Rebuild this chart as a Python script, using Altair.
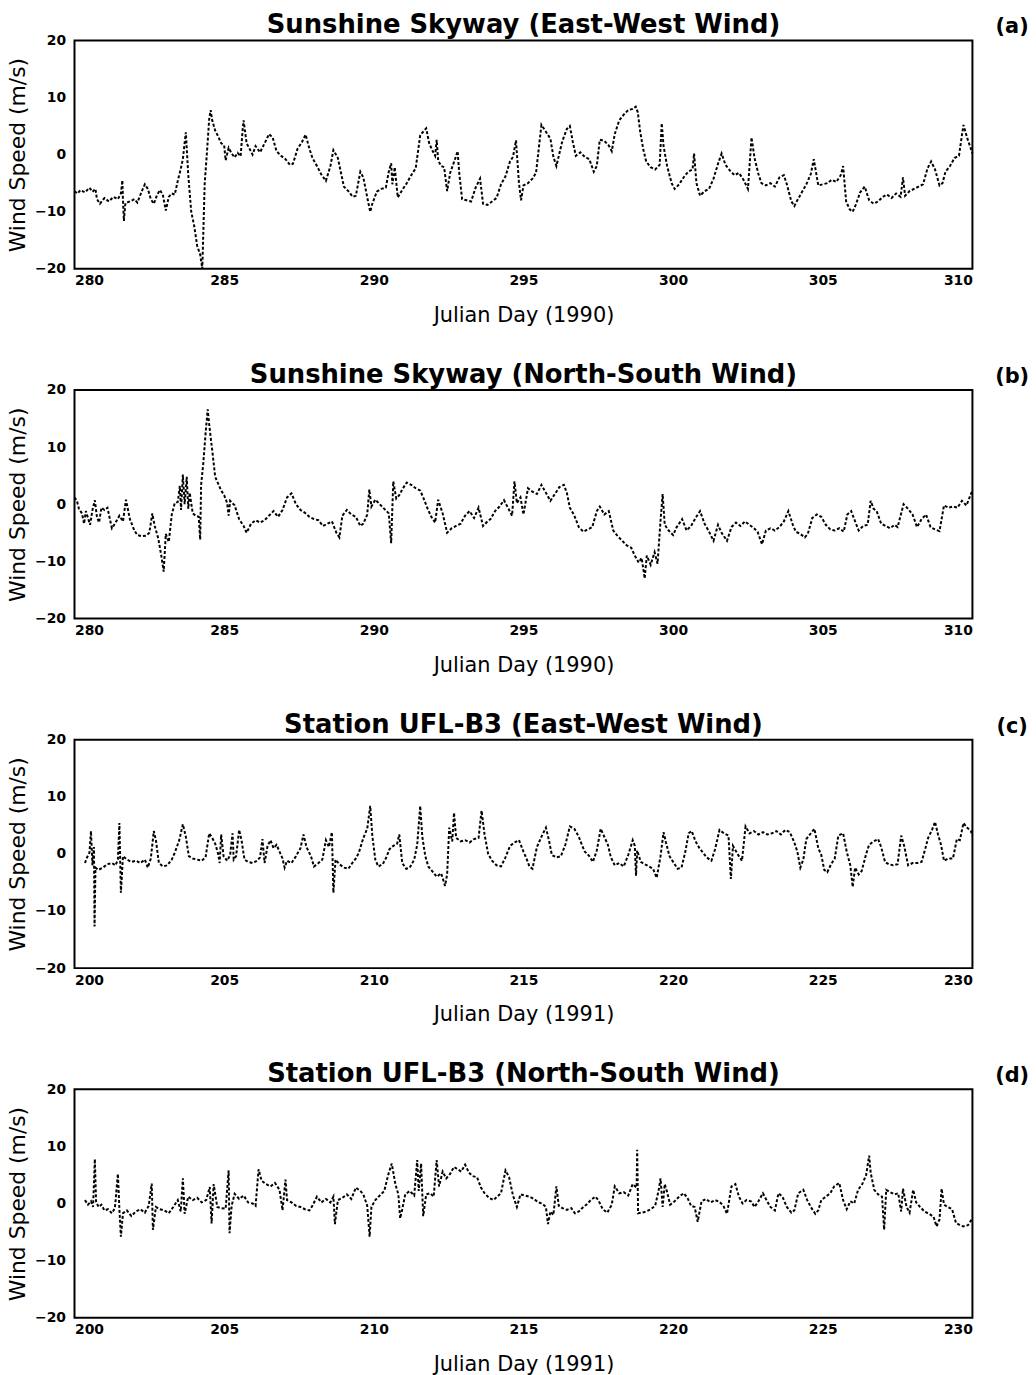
import altair as alt
import pandas as pd

FONT = "DejaVu Sans"

# ---------------- Panel (a): Sunshine Skyway, East-West wind (1990) ----------------
a_day = [280.0, 280.1, 280.2, 280.35, 280.5, 280.6, 280.7, 280.75, 280.85, 281.0, 281.15, 281.3, 281.45,
         281.55, 281.6, 281.62, 281.65, 281.7, 281.85, 282.0, 282.1, 282.25, 282.35, 282.45, 282.55, 282.65,
         282.75, 282.85, 282.95, 283.05, 283.15, 283.25, 283.35, 283.45, 283.55, 283.62, 283.72, 283.8, 283.9,
         284.0, 284.1, 284.2, 284.27, 284.35, 284.42, 284.5, 284.55, 284.6, 284.7, 284.8, 284.9, 285.0, 285.05,
         285.15, 285.25, 285.35, 285.45, 285.55, 285.62, 285.65, 285.75, 285.85, 285.95, 286.05, 286.2, 286.4,
         286.5, 286.62, 286.75, 286.9, 287.05, 287.2, 287.3, 287.45, 287.6, 287.72, 287.85, 287.95, 288.1,
         288.25, 288.4, 288.55, 288.65, 288.8, 289.0, 289.15, 289.3, 289.4, 289.55, 289.65, 289.8, 289.88,
         289.95, 290.1, 290.25, 290.4, 290.5, 290.58, 290.62, 290.7, 290.8, 290.95, 291.1, 291.25, 291.4,
         291.55, 291.65, 291.75, 291.85, 291.95, 292.05, 292.1, 292.15, 292.25, 292.35, 292.45, 292.55, 292.7,
         292.8, 292.85, 292.95, 293.1, 293.25, 293.4, 293.55, 293.65, 293.8, 293.95, 294.1, 294.25, 294.4,
         294.55, 294.65, 294.75, 294.85, 294.92, 295.0, 295.15, 295.3, 295.42, 295.6, 295.75, 295.9, 296.0,
         296.1, 296.2, 296.3, 296.45, 296.55, 296.65, 296.75, 296.9, 297.05, 297.2, 297.35, 297.45, 297.55,
         297.7, 297.85, 297.95, 298.05, 298.2, 298.35, 298.5, 298.65, 298.75, 298.82, 298.9, 299.0, 299.1,
         299.25, 299.4, 299.55, 299.62, 299.68, 299.8, 299.95, 300.05, 300.2, 300.35, 300.5, 300.65, 300.7,
         300.78, 300.9, 301.05, 301.2, 301.35, 301.5, 301.62, 301.75, 301.9, 302.05, 302.2, 302.35, 302.5,
         302.62, 302.72, 302.85, 302.95, 303.1, 303.25, 303.4, 303.55, 303.7, 303.8, 303.95, 304.05, 304.15,
         304.3, 304.45, 304.6, 304.7, 304.85, 305.0, 305.15, 305.3, 305.45, 305.6, 305.68, 305.78, 305.9,
         306.0, 306.1, 306.25, 306.4, 306.55, 306.7, 306.85, 307.0, 307.15, 307.3, 307.45, 307.6, 307.68,
         307.75, 307.9, 308.05, 308.2, 308.35, 308.5, 308.62, 308.75, 308.9, 309.0, 309.1, 309.25, 309.4,
         309.55, 309.7, 309.82, 309.95, 310.0]
a_speed = [-6.4, -6.8, -6.2, -6.6, -5.8, -6.5, -6.0, -7.8, -8.6, -7.6, -8.2, -7.4, -7.8,
           -6.8, -4.5, -8.0, -11.6, -8.5, -8.2, -7.8, -8.4, -6.4, -5.2, -6.0, -7.8, -8.6,
           -7.2, -6.2, -7.0, -9.8, -7.4, -6.8, -7.0, -4.6, -2.5, -0.8, 3.9, -3.5, -10.0,
           -12.5, -16.0, -17.5, -20.0, -5.0, 0.0, 6.2, 7.8, 6.0, 4.2, 3.2, 2.0, 1.6, -1.0,
           1.2, 0.2, -0.5, 0.3, -0.3, 4.5, 6.0, 2.0, 1.0, 0.0, 1.5, 0.4, 2.5,
           3.6, 3.0, 0.6, -0.2, -0.8, -1.8, -1.6, 1.0, 2.2, 3.5, 1.0, -0.6, -2.0,
           -3.5, -4.6, -2.0, 0.8, -0.6, -5.6, -6.4, -7.4, -7.2, -3.0, -4.0, -8.0, -10.0,
           -8.6, -6.5, -6.0, -5.8, -3.0, -1.5, -5.2, -2.2, -7.5, -6.2, -5.0, -3.6, -2.4,
           3.4, 4.0, 4.6, 2.0, 0.8, -0.2, 2.6, -1.0, -2.0, -2.2, -6.4, -3.2, -1.0,
           0.6, -3.0, -7.8, -8.0, -8.2, -5.8, -4.2, -8.6, -8.8, -8.2, -7.6, -5.2, -3.8,
           -1.2, -0.4, 2.5, -5.0, -8.0, -5.4, -5.0, -4.2, -3.2, 5.2, 4.0, 2.8, -0.4,
           -2.0, 0.2, 2.4, 4.5, 5.0, 2.2, -0.2, 0.4, -0.4, -0.8, -3.0, -2.0, 2.6,
           2.4, 1.6, 0.6, 3.6, 6.0, 7.0, 7.8, 8.0, 8.4, 7.4, 4.0, 1.0, -1.2,
           -2.2, -2.6, -1.8, 5.5, 1.5, -2.0, -5.0, -6.0, -5.2, -4.0, -3.0, -2.6, 0.2,
           -5.0, -7.2, -6.4, -6.0, -4.2, -1.6, 0.2, -1.8, -2.8, -3.6, -3.2, -4.4, -6.0,
           3.0, -0.6, -3.4, -5.0, -5.4, -5.0, -5.6, -4.0, -3.6, -5.2, -8.2, -9.0, -8.0,
           -6.6, -5.2, -3.4, -0.8, -5.4, -5.2, -5.0, -4.4, -4.8, -3.6, -2.0, -8.2, -9.6,
           -10.0, -8.8, -6.6, -5.6, -8.0, -8.6, -8.2, -7.4, -7.0, -7.6, -6.8, -7.4, -4.0,
           -7.2, -6.4, -6.0, -5.6, -5.2, -2.4, -1.2, -2.6, -5.4, -5.0, -3.0, -2.0, -0.6,
           -0.2, 5.2, 3.0, 1.0, 0.2]

# ---------------- Panel (b): Sunshine Skyway, North-South wind (1990) ----------------
b_day = [280.0, 280.08, 280.15, 280.25, 280.32, 280.38, 280.45, 280.52, 280.6, 280.68, 280.75, 280.82, 280.9,
         281.0, 281.1, 281.25, 281.35, 281.5, 281.62, 281.72, 281.85, 282.0, 282.1, 282.25, 282.4, 282.5,
         282.6, 282.68, 282.8, 282.9, 282.98, 283.05, 283.15, 283.25, 283.35, 283.45, 283.52, 283.56, 283.62,
         283.68, 283.75, 283.8, 283.85, 283.95, 284.05, 284.15, 284.2, 284.23, 284.3, 284.38, 284.45, 284.5,
         284.57, 284.62, 284.7, 284.8, 284.9, 285.0, 285.1, 285.15, 285.2, 285.35, 285.5, 285.65, 285.75,
         285.9, 286.05, 286.2, 286.35, 286.5, 286.65, 286.8, 286.95, 287.1, 287.25, 287.4, 287.55, 287.7,
         287.85, 288.0, 288.15, 288.3, 288.45, 288.6, 288.75, 288.85, 288.95, 289.1, 289.25, 289.4, 289.55,
         289.65, 289.78, 289.85, 289.92, 290.05, 290.2, 290.35, 290.5, 290.58, 290.65, 290.75, 290.85, 290.95,
         291.1, 291.25, 291.4, 291.55, 291.65, 291.8, 291.92, 292.05, 292.15, 292.3, 292.45, 292.6, 292.75,
         292.9, 293.05, 293.2, 293.35, 293.5, 293.65, 293.8, 293.9, 294.05, 294.2, 294.35, 294.5, 294.62,
         294.7, 294.78, 294.9, 295.0, 295.15, 295.3, 295.45, 295.6, 295.75, 295.9, 296.05, 296.2, 296.35,
         296.45, 296.55, 296.7, 296.85, 297.0, 297.15, 297.3, 297.45, 297.55, 297.7, 297.85, 298.0, 298.15,
         298.3, 298.45, 298.6, 298.72, 298.85, 298.95, 299.05, 299.12, 299.25, 299.38, 299.48, 299.58, 299.65,
         299.72, 299.85, 300.0, 300.12, 300.3, 300.45, 300.6, 300.75, 300.9, 301.05, 301.2, 301.35, 301.5,
         301.62, 301.8, 301.95, 302.1, 302.25, 302.4, 302.55, 302.7, 302.82, 302.97, 303.1, 303.25, 303.4,
         303.55, 303.7, 303.85, 304.0, 304.1, 304.25, 304.4, 304.5, 304.65, 304.8, 304.95, 305.1, 305.25,
         305.4, 305.55, 305.7, 305.82, 305.95, 306.05, 306.2, 306.35, 306.5, 306.6, 306.7, 306.8, 306.95,
         307.1, 307.25, 307.4, 307.5, 307.7, 307.85, 308.0, 308.15, 308.3, 308.45, 308.6, 308.75, 308.9,
         309.05, 309.2, 309.35, 309.5, 309.65, 309.8, 309.95, 310.0]
b_speed = [1.2, 0.6, -0.8, -1.6, -3.4, -1.2, -2.4, -3.6, -1.0, 0.7, -2.2, -3.2, -0.6,
           -1.0, -0.6, -4.2, -3.4, -2.0, -3.0, 0.8, -2.6, -4.6, -5.4, -5.6, -5.5, -5.0,
           -1.6, -3.8, -6.0, -9.0, -11.8, -5.2, -6.6, -1.8, 0.2, 0.4, 3.2, -1.0, 5.2,
           0.0, 4.8, -0.8, 2.0, -1.6, -2.0, -2.2, -6.2, 3.4, 7.0, 12.4, 16.6, 14.0,
           10.8, 8.6, 4.8, 3.6, 2.4, 1.6, 0.2, -2.0, 0.6, -0.2, -2.6, -3.8, -5.0,
           -3.4, -2.8, -3.2, -2.8, -2.0, -1.2, -2.2, -1.0, 1.2, 1.9, 0.0, -1.0, -1.5,
           -2.2, -2.6, -2.8, -3.8, -3.4, -3.0, -5.0, -5.8, -2.0, -1.0, -1.8, -2.2, -3.8,
           -3.4, -1.8, 2.6, -0.4, 0.8, 0.0, -0.8, -1.6, -6.8, 4.0, 1.0, 1.6, 2.6,
           3.8, 3.4, 2.8, 2.4, 1.2, -0.8, -2.2, -3.2, 0.8, -1.6, -5.0, -4.2, -3.8,
           -3.4, -2.0, -1.2, -2.4, -0.6, -3.8, -3.0, -2.6, -1.2, -0.4, 0.7, -0.8, -2.0,
           4.0, 0.2, 1.2, -1.8, 2.8, 2.2, 1.8, 3.4, 2.0, 0.6, 1.8, 3.0, 3.4,
           2.0, -0.6, -2.0, -4.0, -4.8, -4.4, -4.0, -1.2, -0.4, -1.8, -1.2, -4.6, -5.6,
           -6.4, -7.2, -7.6, -9.0, -10.2, -9.4, -13.0, -9.0, -10.6, -8.4, -10.4, -2.8, 1.8,
           -3.6, -4.6, -5.4, -4.0, -2.6, -4.6, -3.8, -2.4, -1.2, -3.4, -4.8, -6.4, -3.6,
           -5.0, -6.4, -4.0, -3.2, -3.8, -3.0, -3.6, -4.2, -4.8, -7.0, -4.6, -4.2, -4.6,
           -4.0, -3.0, -1.2, -3.6, -4.8, -5.2, -5.8, -5.2, -2.4, -1.8, -2.2, -3.6, -4.4,
           -4.6, -4.2, -4.8, -1.8, -1.2, -2.6, -4.6, -3.8, -3.6, 0.6, -0.8, -1.2, -3.4,
           -3.8, -4.2, -3.6, -4.0, 0.0, -0.8, -1.8, -4.0, -2.6, -1.8, -4.0, -4.4, -4.7,
           -0.2, -0.6, -0.4, -0.6, 0.6, -0.2, 1.8, 2.4]

# ---------------- Panel (c): Station UFL-B3, East-West wind (1991) ----------------
c_day = [200.35, 200.42, 200.5, 200.55, 200.6, 200.65, 200.67, 200.7, 200.8, 200.95, 201.1, 201.25, 201.37,
         201.45, 201.5, 201.55, 201.62, 201.75, 201.9, 202.05, 202.2, 202.35, 202.45, 202.55, 202.65, 202.72,
         202.82, 202.95, 203.1, 203.25, 203.35, 203.5, 203.62, 203.72, 203.82, 203.95, 204.1, 204.25, 204.38,
         204.5, 204.6, 204.7, 204.8, 204.85, 204.9, 204.98, 205.1, 205.2, 205.28, 205.32, 205.4, 205.5,
         205.58, 205.68, 205.8, 205.95, 206.1, 206.2, 206.28, 206.35, 206.45, 206.55, 206.65, 206.75, 206.85,
         206.95, 207.02, 207.1, 207.25, 207.4, 207.55, 207.65, 207.75, 207.9, 208.0, 208.15, 208.28, 208.4,
         208.5, 208.6, 208.65, 208.72, 208.85, 209.0, 209.15, 209.28, 209.4, 209.5, 209.65, 209.78, 209.88,
         209.95, 210.05, 210.15, 210.3, 210.42, 210.52, 210.65, 210.78, 210.85, 210.95, 211.08, 211.2, 211.35,
         211.45, 211.55, 211.62, 211.72, 211.82, 211.95, 212.1, 212.25, 212.38, 212.45, 212.52, 212.62, 212.68,
         212.75, 212.9, 213.05, 213.2, 213.35, 213.5, 213.6, 213.7, 213.82, 213.95, 214.1, 214.25, 214.4,
         214.55, 214.7, 214.85, 215.0, 215.1, 215.2, 215.3, 215.45, 215.6, 215.75, 215.85, 215.95, 216.1,
         216.25, 216.4, 216.55, 216.7, 216.85, 216.95, 217.05, 217.2, 217.32, 217.45, 217.58, 217.7, 217.82,
         217.92, 218.05, 218.2, 218.35, 218.5, 218.65, 218.72, 218.76, 218.8, 218.92, 219.05, 219.2, 219.33,
         219.45, 219.58, 219.68, 219.76, 219.88, 220.0, 220.15, 220.28, 220.4, 220.52, 220.62, 220.75, 220.88,
         221.0, 221.12, 221.28, 221.4, 221.55, 221.7, 221.85, 221.93, 222.0, 222.15, 222.3, 222.42, 222.55,
         222.7, 222.85, 223.0, 223.15, 223.3, 223.45, 223.6, 223.75, 223.9, 224.05, 224.15, 224.25, 224.35,
         224.45, 224.6, 224.72, 224.85, 224.95, 225.05, 225.15, 225.28, 225.4, 225.52, 225.68, 225.8, 225.92,
         226.0, 226.08, 226.2, 226.3, 226.45, 226.55, 226.7, 226.85, 226.95, 227.08, 227.2, 227.35, 227.5,
         227.62, 227.72, 227.85, 228.0, 228.15, 228.3, 228.42, 228.52, 228.65, 228.75, 228.85, 228.95, 229.05,
         229.2, 229.35, 229.48, 229.58, 229.7, 229.82, 229.95, 230.0]
c_speed = [-1.6, -0.6, 0.2, 4.0, -2.0, 1.2, -12.7, -2.4, -2.8, -2.4, -1.8, -1.6, -2.0,
           -1.0, 5.4, -6.8, -0.4, -1.0, -1.4, -1.2, -1.6, -1.0, -2.4, -0.8, 4.0, 2.4,
           -1.6, -2.2, -2.0, -1.0, 0.2, 2.4, 5.2, 3.0, -0.4, -0.8, -1.0, -1.2, -0.6,
           3.6, 2.8, 1.8, 0.0, -1.6, 3.4, -0.4, -1.2, -0.2, 3.6, -1.0, -0.4, 4.2,
           2.4, -1.0, -1.4, -1.6, -1.2, -0.6, 2.6, -1.6, 1.4, 2.4, 1.0, 1.6, 0.4,
           -0.8, -2.4, -1.2, -1.6, -0.4, 1.0, 3.4, 1.2, -0.4, -2.2, -1.6, -1.0, 2.4,
           1.2, 3.8, -6.8, -1.0, -1.8, -2.4, -2.6, -1.6, -0.8, 0.2, 2.8, 4.4, 8.4,
           3.2, -1.0, -2.2, -1.8, -0.6, 0.8, 1.4, 1.8, 3.4, -1.6, -2.6, -2.4, -1.0,
           1.6, 8.4, 3.0, -0.4, -2.2, -3.0, -4.0, -3.4, -5.6, -3.6, 4.6, 2.2, 7.2,
           2.8, 2.2, 2.4, 2.0, 2.6, 2.8, 7.6, 3.4, 0.0, -1.2, -2.0, -2.2, -0.6,
           1.4, 2.0, 2.4, 0.4, -0.8, -2.2, -2.6, 1.2, 3.0, 4.6, 2.4, -0.2, -0.6,
           -0.4, 1.6, 4.8, 4.4, 3.0, 1.6, 0.4, -0.4, -1.4, 0.6, 4.4, 3.0, 1.6,
           -0.6, -2.0, -1.6, -2.2, -0.2, 2.4, 1.4, -3.8, 0.6, -1.4, -1.8, -2.2, -2.6,
           -4.2, -0.4, 3.8, 2.0, -0.4, -1.4, -2.6, -2.4, 0.2, 3.6, 4.0, 2.2, 1.0,
           0.2, -0.6, -1.2, 0.8, 4.2, 3.6, 3.2, -4.4, 1.4, 0.0, -1.2, 4.8, 3.6,
           4.0, 3.4, 3.8, 3.4, 3.6, 4.0, 3.4, 4.2, 3.8, 2.0, 0.4, -2.4, -1.0,
           2.6, 3.6, 4.4, 1.0, -0.2, -2.8, -3.2, -1.8, -0.8, 3.2, 3.6, 0.4, -2.0,
           -5.8, -2.4, -3.6, -3.0, 0.0, 1.6, 2.2, 2.6, 1.2, -1.4, -1.8, -2.0, -1.8,
           3.2, 1.4, -2.0, -1.6, -1.6, -1.4, 0.8, 2.8, 4.2, 5.6, 3.4, 1.6, -1.2,
           -0.8, -0.8, 2.6, 2.4, 5.4, 4.6, 4.0, 3.2]

# ---------------- Panel (d): Station UFL-B3, North-South wind (1991) ----------------
d_day = [200.35, 200.45, 200.55, 200.62, 200.68, 200.72, 200.8, 200.9, 201.0, 201.12, 201.25, 201.35, 201.45,
         201.5, 201.55, 201.62, 201.75, 201.9, 202.05, 202.2, 202.35, 202.48, 202.58, 202.62, 202.72, 202.85,
         203.0, 203.15, 203.3, 203.45, 203.55, 203.62, 203.68, 203.8, 203.95, 204.1, 204.25, 204.4, 204.52,
         204.58, 204.65, 204.77, 204.9, 205.05, 205.15, 205.18, 205.25, 205.35, 205.5, 205.65, 205.8, 205.95,
         206.05, 206.15, 206.25, 206.4, 206.55, 206.7, 206.85, 206.95, 207.05, 207.1, 207.25, 207.4, 207.55,
         207.7, 207.85, 207.95, 208.1, 208.25, 208.4, 208.55, 208.65, 208.7, 208.8, 208.95, 209.1, 209.25,
         209.4, 209.55, 209.65, 209.78, 209.86, 209.92, 210.05, 210.2, 210.35, 210.48, 210.6, 210.72, 210.82,
         210.88, 210.95, 211.05, 211.2, 211.35, 211.45, 211.5, 211.58, 211.65, 211.75, 211.88, 212.0, 212.1,
         212.18, 212.3, 212.42, 212.55, 212.68, 212.8, 212.92, 213.05, 213.18, 213.3, 213.45, 213.58, 213.7,
         213.85, 214.0, 214.12, 214.25, 214.4, 214.52, 214.65, 214.78, 214.9, 215.05, 215.2, 215.35, 215.5,
         215.62, 215.75, 215.82, 215.9, 216.0, 216.1, 216.18, 216.3, 216.45, 216.6, 216.72, 216.85, 217.0,
         217.1, 217.25, 217.4, 217.5, 217.65, 217.8, 217.95, 218.05, 218.2, 218.35, 218.5, 218.65, 218.78,
         218.8, 218.83, 218.95, 219.1, 219.25, 219.4, 219.52, 219.58, 219.65, 219.72, 219.8, 219.9, 220.05,
         220.2, 220.35, 220.48, 220.6, 220.72, 220.82, 220.95, 221.1, 221.25, 221.4, 221.55, 221.68, 221.8,
         221.95, 222.08, 222.2, 222.32, 222.45, 222.6, 222.72, 222.85, 223.0, 223.12, 223.25, 223.4, 223.52,
         223.65, 223.8, 223.95, 224.05, 224.18, 224.35, 224.48, 224.6, 224.75, 224.85, 224.95, 225.1, 225.25,
         225.38, 225.55, 225.68, 225.8, 225.92, 226.05, 226.18, 226.32, 226.45, 226.55, 226.6, 226.72, 226.85,
         226.98, 227.05, 227.12, 227.25, 227.4, 227.52, 227.62, 227.68, 227.8, 227.9, 228.02, 228.12, 228.25,
         228.4, 228.55, 228.7, 228.8, 228.9, 228.97, 229.05, 229.18, 229.32, 229.45, 229.58, 229.7, 229.85,
         229.95, 230.0]
d_speed = [0.6, -0.2, 0.4, -0.6, 7.8, 0.4, -0.6, -0.2, -1.2, -1.0, -1.7, -0.8, 5.2,
           -1.0, -5.8, -1.7, -1.2, -2.2, -1.4, -1.0, -1.6, -0.4, 3.5, -4.6, -0.6, -1.0,
           -1.2, -1.7, -0.6, 0.6, -1.4, 4.4, -1.8, 1.2, 0.6, 1.0, 0.2, 0.6, 2.9,
           -3.5, 3.4, -0.6, -0.8, -0.9, 5.8, -5.2, -0.4, 1.7, 0.8, 1.4, 0.2, 0.0,
           -0.4, 6.0, 4.0, 3.4, 3.0, 3.6, 2.4, -1.2, 4.2, 0.6, 0.2, -0.4, -0.6,
           -1.0, -1.2, -0.4, 1.2, 0.2, 0.8, 0.2, 1.2, -3.6, 0.6, 1.0, 1.6, 0.8,
           2.8, 2.2, 1.6, -0.4, -5.8, -0.6, 0.6, 1.4, 2.2, 5.0, 7.0, 3.4, 1.6,
           -2.6, -1.0, 1.6, 2.2, 1.4, 7.6, 2.2, 7.0, -2.2, 1.6, 1.8, 1.2, 7.6,
           3.0, 5.6, 4.4, 5.2, 6.4, 6.0, 5.6, 6.8, 5.4, 4.8, 4.6, 2.8, 1.8,
           1.0, 0.6, 1.2, 1.8, 5.8, 4.6, 1.4, -0.6, 1.6, 1.4, 1.2, 0.8, 0.2,
           0.0, -0.6, -3.6, -1.4, -2.0, 3.0, -0.4, -0.8, -1.1, -0.8, -1.7, -1.4, -0.6,
           -0.2, 0.6, 1.2, 0.6, -1.0, -1.6, -0.2, 3.0, 1.8, 2.0, 1.4, 3.4, 2.8,
           9.4, -1.7, -1.6, -1.4, -1.0, -0.4, 2.4, 4.4, -0.6, 3.4, 2.0, -0.2, 0.4,
           1.2, 1.8, 1.0, -0.4, -0.6, -3.2, 0.4, 0.8, 0.2, 0.6, 0.3, -0.4, -1.8,
           3.0, 3.4, 1.2, 0.0, 0.6, 0.4, -0.6, 0.4, 1.8, 0.6, -0.6, -1.2, 1.8,
           1.2, -0.6, -1.6, -1.2, 1.8, 2.4, 0.6, -0.6, -1.8, -1.2, 0.6, 1.2, 1.8,
           3.0, 3.6, 0.6, -1.0, 0.4, 0.0, 2.4, 3.4, 5.0, 8.4, 5.4, 2.4, 1.6,
           1.2, -4.6, 2.4, 2.0, 1.6, 1.8, -1.4, 2.6, -0.6, -1.6, 2.4, 0.2, -0.6,
           -1.4, -1.8, -2.3, -4.0, -2.8, 2.6, -0.2, -0.6, -1.0, -3.4, -3.8, -4.0, -3.8,
           -3.0, -2.6]

titles = ["Sunshine Skyway (East-West Wind)", "Sunshine Skyway (North-South Wind)",
          "Station UFL-B3 (East-West Wind)", "Station UFL-B3 (North-South Wind)"]
labels = ["(a)", "(b)", "(c)", "(d)"]
x_titles = ["Julian Day (1990)", "Julian Day (1990)", "Julian Day (1991)", "Julian Day (1991)"]
x_ticks_1990 = [280, 285, 290, 295, 300, 305, 310]
x_ticks_1991 = [200, 205, 210, 215, 220, 225, 230]
y_ticks = [-20, -10, 0, 10, 20]

W, H = 904, 230


def panel(days, speeds, title, label, xtitle, xticks):
    df = pd.DataFrame({"day": days, "speed": speeds})
    line = alt.Chart(df).mark_line(color="black", strokeWidth=2, strokeDash=[3, 2]).encode(
        x=alt.X("day:Q",
                scale=alt.Scale(domain=[xticks[0], xticks[-1]], nice=False, zero=False),
                axis=alt.Axis(values=xticks, title=xtitle, format="d", labelFontSize=14,
                              labelFontWeight="bold", labelPadding=5, ticks=False, domain=False,
                              grid=False, titleFontSize=21, titleFontWeight="normal",
                              titlePadding=17, labelFont=FONT, titleFont=FONT, labelColor="black",
                              titleColor="black")),
        y=alt.Y("speed:Q",
                scale=alt.Scale(domain=[-20, 20], nice=False),
                axis=alt.Axis(values=y_ticks, title="Wind Speed (m/s)", labelFontSize=14,
                              labelFontWeight="bold", labelPadding=9, ticks=False, domain=False,
                              grid=False, titleFontSize=22, titleFontWeight="normal",
                              titlePadding=5, labelFont=FONT, titleFont=FONT, labelColor="black",
                              titleColor="black")),
    )
    ttl = alt.Chart(pd.DataFrame({"t": [title]})).mark_text(
        font=FONT, fontSize=26, fontWeight="bold", align="center", baseline="alphabetic",
        color="black").encode(text="t:N", x=alt.value(W / 2), y=alt.value(-7))
    lab = alt.Chart(pd.DataFrame({"t": [label]})).mark_text(
        font=FONT, fontSize=21, fontWeight="bold", align="center", baseline="alphabetic",
        color="black").encode(text="t:N", x=alt.value(W + 40), y=alt.value(-7))
    return alt.layer(line, ttl, lab).properties(width=W, height=H)


panels = [
    panel(a_day, a_speed, titles[0], labels[0], x_titles[0], x_ticks_1990),
    panel(b_day, b_speed, titles[1], labels[1], x_titles[1], x_ticks_1990),
    panel(c_day, c_speed, titles[2], labels[2], x_titles[2], x_ticks_1991),
    panel(d_day, d_speed, titles[3], labels[3], x_titles[3], x_ticks_1991),
]

chart = alt.vconcat(*panels, spacing=35).properties(
    padding={"left": 5, "top": 7, "right": 5, "bottom": 0},
    background="white",
).configure_view(stroke="black", strokeWidth=2)

chart.save("out.html", embed_options={"renderer": "svg", "actions": False})
